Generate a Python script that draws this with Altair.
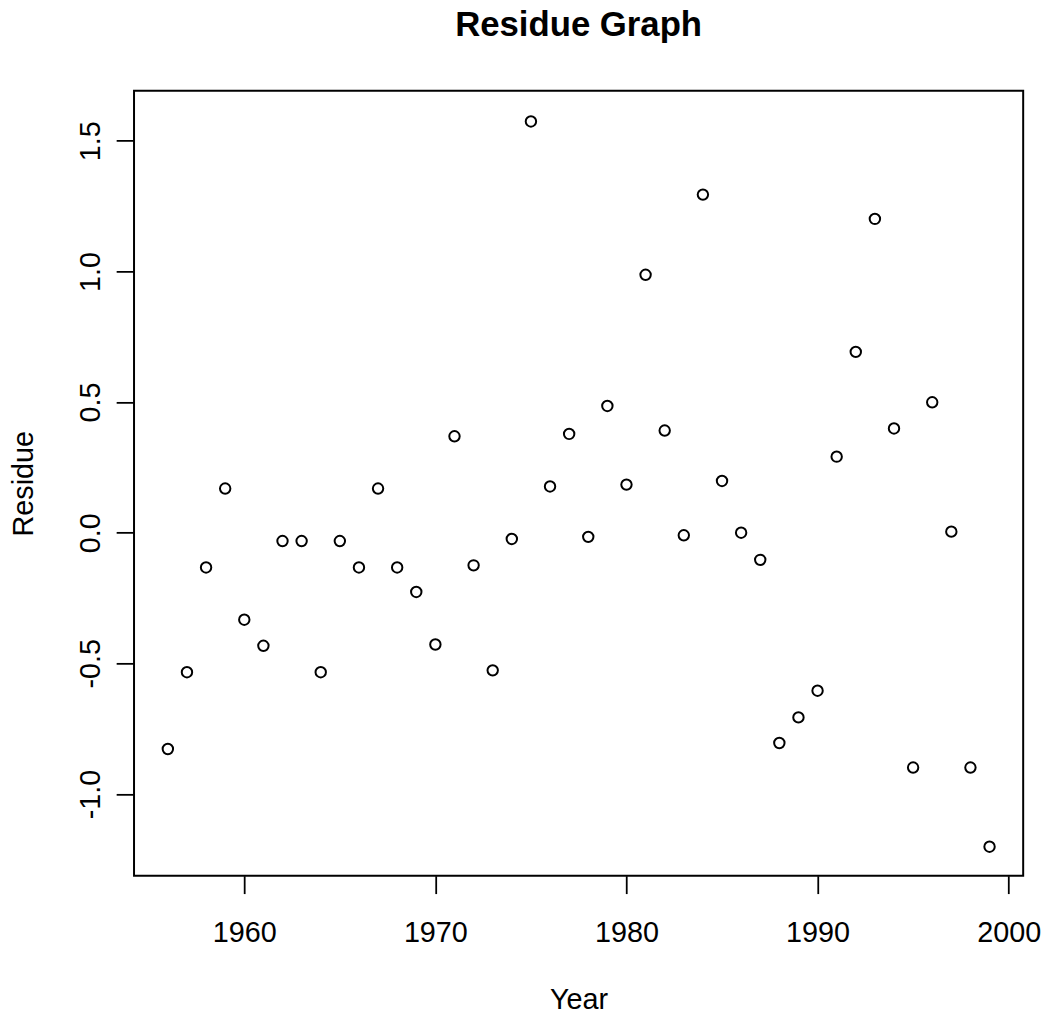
import altair as alt
import pandas as pd

years = list(range(1956, 2000))
residues = [
    -0.828, -0.534, -0.133, 0.169, -0.333, -0.433, -0.032, -0.032, -0.534, -0.032,
    -0.133, 0.169, -0.133, -0.227, -0.428, 0.369, -0.125, -0.527, -0.024, 1.574,
    0.177, 0.378, -0.016, 0.485, 0.184, 0.987, 0.391, -0.010, 1.294, 0.198,
    0.000, -0.104, -0.805, -0.707, -0.605, 0.291, 0.692, 1.201, 0.399, -0.899,
    0.499, 0.004, -0.899, -1.202,
]
x_ticks = [1960, 1970, 1980, 1990, 2000]
y_ticks = [-1.0, -0.5, 0.0, 0.5, 1.0, 1.5]

df = pd.DataFrame({"Year": years, "Residue": residues})

FONT = "Liberation Sans"

label_expr = "datum.value < 0 ? '-' + format(-datum.value, '.1f') : format(datum.value, '.1f')"

chart = alt.Chart(df).mark_point(
    shape="circle", filled=False, color="black", size=110, strokeWidth=2, opacity=1
).encode(
    x=alt.X("Year:Q",
            scale=alt.Scale(domain=[1954.23, 2000.76], nice=False, zero=False),
            axis=alt.Axis(values=x_ticks, format="d", grid=False, domain=False,
                          tickSize=18, tickWidth=1.8, tickColor="black",
                          labelFont=FONT, labelFontSize=29, labelColor="black",
                          labelBaseline="alphabetic", labelPadding=48.5,
                          labelFlush=False,
                          title="Year", titleFont=FONT, titleFontSize=29,
                          titleFontWeight="normal", titleColor="black",
                          titleBaseline="alphabetic", titleY=134)),
    y=alt.Y("Residue:Q",
            scale=alt.Scale(domain=[-1.313, 1.6915], nice=False, zero=False),
            axis=alt.Axis(values=y_ticks, grid=False, domain=False,
                          labelExpr=label_expr,
                          tickSize=18, tickWidth=1.8, tickColor="black",
                          labelFont=FONT, labelFontSize=29, labelColor="black",
                          labelAngle=270, labelAlign="center",
                          labelBaseline="alphabetic", labelPadding=17,
                          labelFlush=False,
                          title="Residue", titleFont=FONT, titleFontSize=29,
                          titleFontWeight="normal", titleColor="black",
                          titleAngle=270, titleBaseline="alphabetic",
                          titleX=-102, titleY=395.5)),
).properties(
    width=896,
    height=791,
    autosize=alt.AutoSizeParams(type="none"),
    padding={"left": 127, "top": 79.5, "right": 23, "bottom": 142},
    background="white",
    title=alt.TitleParams("Residue Graph", font=FONT, fontSize=35,
                          fontWeight="bold", color="black", anchor="middle",
                          baseline="alphabetic", offset=20.5),
).configure_view(
    stroke="black", strokeWidth=2
)

chart.save("out.html", embed_options={"renderer": "svg", "actions": False})
